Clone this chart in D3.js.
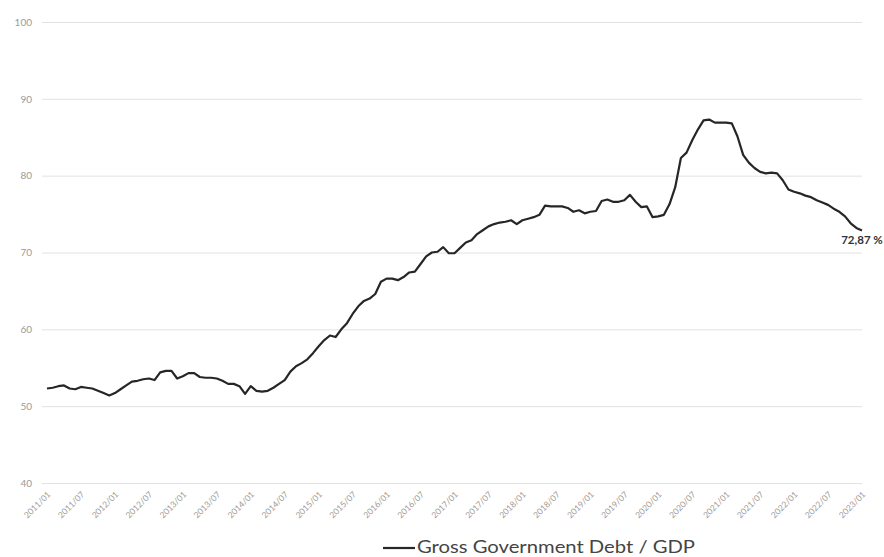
<!DOCTYPE html>
<html>
<head>
<meta charset="utf-8">
<script src="https://cdn.jsdelivr.net/npm/d3@7"></script>
<style>
  html, body { margin: 0; padding: 0; background: #fff; }
  svg { display: block; }
</style>
</head>
<body>
<svg id="chart" width="884" height="557"></svg>
<script>
// Gross government debt as a share of GDP, monthly, 2011/01 – 2023/01 (%)
const startYear = 2011;
const debtToGdp = [
  // 2011
  52.3, 52.4, 52.6, 52.7, 52.3, 52.2, 52.5, 52.4, 52.3, 52.0, 51.7, 51.4,
  // 2012
  51.7, 52.2, 52.7, 53.2, 53.3, 53.5, 53.6, 53.4, 54.4, 54.6, 54.6, 53.6,
  // 2013
  53.9, 54.3, 54.3, 53.8, 53.7, 53.7, 53.6, 53.3, 52.9, 52.9, 52.6, 51.6,
  // 2014
  52.6, 52.0, 51.9, 52.0, 52.4, 52.9, 53.4, 54.5, 55.2, 55.6, 56.1, 56.9,
  // 2015
  57.8, 58.6, 59.2, 59.0, 60.0, 60.8, 62.0, 63.0, 63.7, 64.0, 64.6, 66.2,
  // 2016
  66.6, 66.6, 66.4, 66.8, 67.4, 67.5, 68.5, 69.5, 70.0, 70.1, 70.7, 69.9,
  // 2017
  69.9, 70.6, 71.3, 71.6, 72.4, 72.9, 73.4, 73.7, 73.9, 74.0, 74.2, 73.7,
  // 2018
  74.2, 74.4, 74.6, 74.9, 76.1, 76.0, 76.0, 76.0, 75.8, 75.3, 75.5, 75.1,
  // 2019
  75.3, 75.4, 76.7, 76.9, 76.6, 76.6, 76.8, 77.5, 76.6, 75.9, 76.0, 74.6,
  // 2020
  74.7, 74.9, 76.3, 78.5, 82.3, 83.0, 84.6, 86.0, 87.2, 87.3, 86.9, 86.9,
  // 2021
  86.9, 86.8, 85.1, 82.7, 81.7, 81.0, 80.5, 80.3, 80.4, 80.3, 79.4, 78.2,
  // 2022
  77.9, 77.7, 77.4, 77.2, 76.8, 76.5, 76.2, 75.7, 75.3, 74.7, 73.8, 73.2,
  // 2023
  72.87
];

// Month categories ("YYYY/MM") for each observation
const months = debtToGdp.map((_, i) => {
  const y = startYear + Math.floor(i / 12);
  const m = (i % 12) + 1;
  return y + "/" + String(m).padStart(2, "0");
});

// Category labels shown along the bottom (every six months)
const xTickLabels = [
  "2011/01", "2011/07", "2012/01", "2012/07", "2013/01", "2013/07",
  "2014/01", "2014/07", "2015/01", "2015/07", "2016/01", "2016/07",
  "2017/01", "2017/07", "2018/01", "2018/07", "2019/01", "2019/07",
  "2020/01", "2020/07", "2021/01", "2021/07", "2022/01", "2022/07",
  "2023/01"
];
const yTicks = [40, 50, 60, 70, 80, 90, 100];
const seriesName = "Gross Government Debt / GDP";
const lastLabel = "72,87 %";

const svg = d3.select("#chart");
const font = "Lato, 'Open Sans', sans-serif";

const gridLeft = 42, gridRight = 862;
const x = d3.scalePoint().domain(months).range([47, 862]);
const y = d3.scaleLinear().domain([40, 100]).range([483, 22]);

// Horizontal gridlines with value labels
const yAxis = svg.append("g")
  .attr("transform", `translate(${gridRight},0)`)
  .call(d3.axisLeft(y).tickValues(yTicks).tickSize(gridRight - gridLeft).tickPadding(10));
yAxis.select(".domain").remove();
yAxis.selectAll(".tick line").attr("stroke", "#e2e2e2").attr("stroke-width", 1);
yAxis.selectAll(".tick text")
  .attr("fill", "#9a9a9a")
  .style("font-family", font)
  .style("font-size", "10px");

// Rotated month labels
const xAxis = svg.append("g");
xAxis.selectAll("text")
  .data(xTickLabels)
  .join("text")
  .attr("transform", d => `translate(${x(d) + 2},${493}) rotate(-45)`)
  .attr("text-anchor", "end")
  .attr("dy", "0.35em")
  .attr("fill", "#9a9a9a")
  .style("font-family", font)
  .style("font-size", "8.5px")
  .text(d => d);

// Series line
const line = d3.line()
  .x((d, i) => x(months[i]))
  .y(d => y(d));

svg.append("path")
  .datum(debtToGdp)
  .attr("fill", "none")
  .attr("stroke", "#262626")
  .attr("stroke-width", 2.2)
  .attr("stroke-linejoin", "round")
  .attr("d", line);

// Value label under the latest point
const lastIdx = debtToGdp.length - 1;
svg.append("text")
  .attr("x", x(months[lastIdx]))
  .attr("y", y(debtToGdp[lastIdx]) + 14)
  .attr("text-anchor", "middle")
  .attr("fill", "#333")
  .style("font-family", font)
  .style("font-size", "11.5px")
  .style("font-weight", "bold")
  .text(lastLabel);

// Legend
const legend = svg.append("g");
legend.append("line")
  .attr("x1", 383).attr("x2", 415)
  .attr("y1", 548).attr("y2", 548)
  .attr("stroke", "#262626")
  .attr("stroke-width", 2.2);
legend.append("text")
  .attr("x", 417)
  .attr("y", 553)
  .attr("fill", "#444")
  .attr("textLength", 278)
  .attr("lengthAdjust", "spacingAndGlyphs")
  .style("font-family", font)
  .style("font-size", "17px")
  .text(seriesName);
</script>
</body>
</html>
